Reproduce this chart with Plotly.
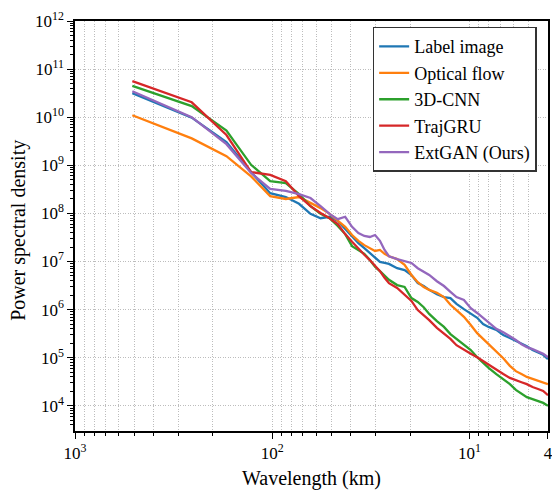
import plotly.graph_objects as go

# Wavelength (km) sample positions
wavelength_km = [512, 256, 170.67, 128, 102.4, 85.33, 73.14, 64, 56.89, 51.2,
                 46.55, 42.67, 39.38, 36.57, 34.13, 32, 30.12, 28.44, 26.95, 25.6,
                 23.27, 21.33, 19.69, 18.29, 17.07, 16, 14.63, 13.47, 12.49, 11.64,
                 10.67, 9.85, 9.14, 8.53, 8.0, 7.31, 6.74, 6.24, 5.82, 5.45,
                 5.12, 4.79, 4.49, 4.23, 4.0]

# log10 of power spectral density
label_image_log = [10.50, 9.99, 9.48, 8.86, 8.42, 8.34, 8.20, 7.99, 7.90, 7.93,
                   7.84, 7.68, 7.51, 7.38, 7.28, 7.18, 7.09, 6.99, 6.97, 6.95,
                   6.86, 6.82, 6.72, 6.55, 6.49, 6.41, 6.32, 6.26, 6.24, 6.12,
                   6.01, 5.91, 5.83, 5.70, 5.64, 5.58, 5.47, 5.41, 5.35, 5.28,
                   5.24, 5.16, 5.10, 5.06, 4.97]
optical_flow_log = [10.04, 9.56, 9.19, 8.77, 8.36, 8.30, 8.34, 8.22, 8.11, 7.99,
                    7.84, 7.72, 7.55, 7.43, 7.34, 7.28, 7.22, 7.24, 7.16, 7.11,
                    7.05, 6.93, 6.72, 6.57, 6.47, 6.41, 6.35, 6.26, 6.10, 5.99,
                    5.85, 5.68, 5.51, 5.39, 5.28, 5.12, 4.99, 4.83, 4.72, 4.66,
                    4.60, 4.56, 4.52, 4.49, 4.45]
cnn3d_log = [10.65, 10.23, 9.72, 9.01, 8.67, 8.63, 8.40, 8.15, 7.99, 7.90,
             7.74, 7.57, 7.32, 7.24, 7.16, 7.03, 6.89, 6.80, 6.70, 6.62,
             6.51, 6.47, 6.24, 6.16, 6.05, 5.91, 5.76, 5.64, 5.49, 5.39,
             5.26, 5.16, 5.01, 4.89, 4.79, 4.66, 4.56, 4.45, 4.33, 4.25,
             4.18, 4.14, 4.10, 4.06, 4.00]
trajgru_log = [10.75, 10.31, 9.63, 8.86, 8.80, 8.67, 8.36, 8.15, 8.01, 7.90,
               7.78, 7.57, 7.41, 7.26, 7.14, 7.03, 6.91, 6.80, 6.66, 6.55,
               6.45, 6.30, 6.18, 5.99, 5.89, 5.78, 5.62, 5.51, 5.39, 5.26,
               5.16, 5.08, 5.01, 4.93, 4.85, 4.74, 4.66, 4.58, 4.54, 4.49,
               4.45, 4.39, 4.35, 4.31, 4.22]
extgan_log = [10.54, 10.00, 9.44, 8.84, 8.51, 8.47, 8.40, 8.32, 8.15, 7.99,
              7.88, 7.93, 7.72, 7.59, 7.53, 7.51, 7.55, 7.43, 7.24, 7.11,
              7.05, 7.01, 6.97, 6.86, 6.78, 6.72, 6.59, 6.49, 6.37, 6.26,
              6.20, 6.03, 5.93, 5.83, 5.72, 5.60, 5.53, 5.45, 5.37, 5.28,
              5.22, 5.18, 5.12, 5.08, 5.01]

series_names = ["Label image", "Optical flow", "3D-CNN", "TrajGRU", "ExtGAN (Ours)"]
series_logs = [label_image_log, optical_flow_log, cnn3d_log, trajgru_log, extgan_log]
series_colors = ["#1f77b4", "#ff7f0e", "#2ca02c", "#d62728", "#9467bd"]

x_tick_vals = [1000, 100, 10, 4]
x_tick_text = ["10<sup>3</sup>", "10<sup>2</sup>", "10<sup>1</sup>", "4"]
y_exponents = list(range(4, 13))

FONT = "Liberation Serif"
GRID = "#bdbdbd"
GRID_DASH = "1px,1.5px"

fig = go.Figure()
for name, logs, color in zip(series_names, series_logs, series_colors):
    fig.add_trace(go.Scatter(
        x=wavelength_km, y=[10 ** v for v in logs], mode="lines", name=name,
        line=dict(color=color, width=2.3)))

x_minor = [m * 10 ** d for d in (0, 1, 2) for m in range(2, 10) if 4 < m * 10 ** d < 1000]
y_minor = [m * 10 ** d for d in range(3, 12) for m in range(2, 10) if m * 10 ** d > 3000]

fig.update_layout(
    width=552, height=491,
    margin=dict(l=75, r=4, t=21, b=60, autoexpand=False),
    paper_bgcolor="white", plot_bgcolor="white",
    font=dict(family=FONT, size=17, color="black"),
    showlegend=True,
    legend=dict(x=0.976, y=0.986, xanchor="right", yanchor="top",
                bgcolor="white", bordercolor="#333333", borderwidth=1.5,
                font=dict(family=FONT, size=18, color="black"),
                tracegroupgap=0, itemwidth=30),
    annotations=[
        dict(text="Wavelength (km)", xref="paper", yref="paper", x=0.5, y=-0.117,
             xanchor="center", yanchor="middle", showarrow=False,
             font=dict(family=FONT, size=20, color="black")),
        dict(text="Power spectral density", xref="paper", yref="paper", x=-0.121, y=0.49,
             xanchor="center", yanchor="middle", showarrow=False, textangle=-90,
             font=dict(family=FONT, size=20, color="black")),
    ],
)
fig.update_xaxes(
    type="log", range=[3, 0.6019], autorange=False, automargin=False,
    tickmode="array", tickvals=x_tick_vals, ticktext=x_tick_text,
    ticklabeloverflow="allow",
    ticks="outside", ticklen=6, tickwidth=1.2, tickcolor="black",
    showline=True, linecolor="black", linewidth=1.5, mirror=True,
    showgrid=True, gridcolor=GRID, griddash=GRID_DASH, gridwidth=1,
    minor=dict(tickmode="array", tickvals=x_minor, ticks="outside", ticklen=3, tickwidth=1,
               tickcolor="black", showgrid=True, gridcolor=GRID,
               griddash=GRID_DASH, gridwidth=1),
    tickfont=dict(family=FONT, size=17, color="black"), zeroline=False,
)
fig.update_yaxes(
    type="log", range=[3.476, 12], autorange=False, automargin=False,
    tickmode="array", tickvals=[10 ** e for e in y_exponents],
    ticktext=["10<sup>%d</sup>" % e for e in y_exponents],
    ticklabeloverflow="allow",
    ticks="outside", ticklen=6, tickwidth=1.2, tickcolor="black",
    showline=True, linecolor="black", linewidth=1.5, mirror=True,
    showgrid=True, gridcolor=GRID, griddash=GRID_DASH, gridwidth=1,
    minor=dict(tickmode="array", tickvals=y_minor, ticks="outside", ticklen=3, tickwidth=1,
               tickcolor="black", showgrid=False),
    tickfont=dict(family=FONT, size=17, color="black"), zeroline=False,
)

fig.write_html("out.html", config={"displayModeBar": False},
               post_script="document.body.style.margin='0';document.body.style.overflow='hidden';")
